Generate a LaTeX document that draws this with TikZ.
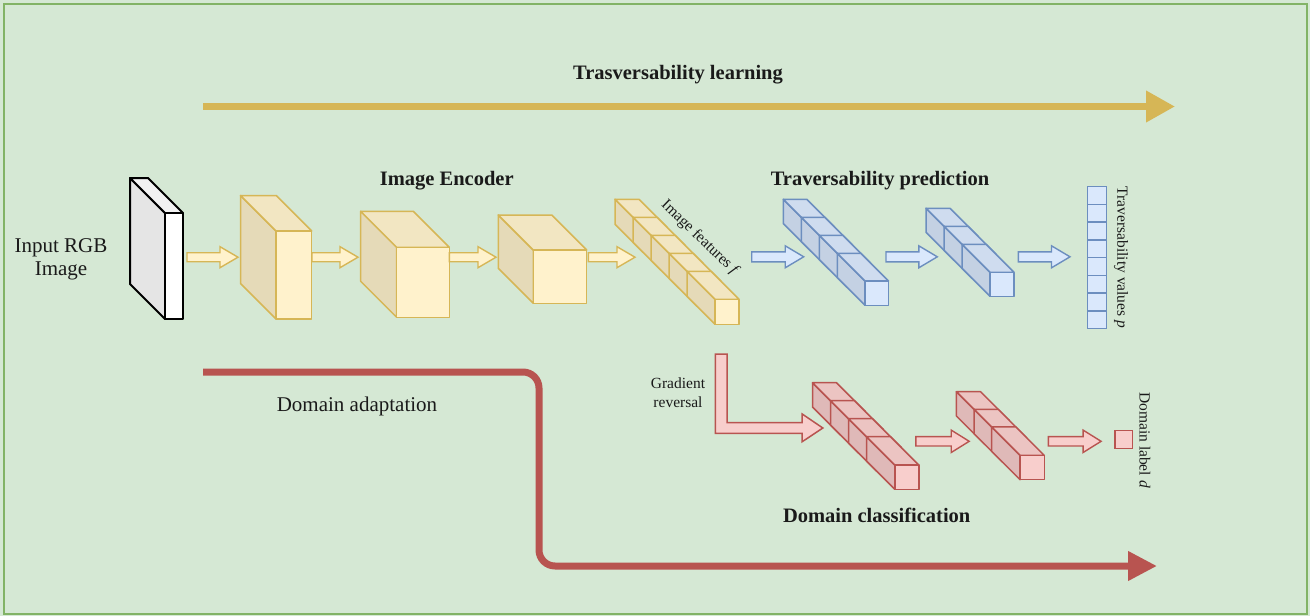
\documentclass[tikz,border=0pt]{standalone}
\usepackage{fontspec}
\setmainfont{Liberation Serif}
\usetikzlibrary{arrows.meta}
\definecolor{bg}{HTML}{D5E8D4}
\definecolor{bgline}{HTML}{82B366}
\definecolor{yfill}{HTML}{FFF2CC}
\definecolor{yline}{HTML}{D6B656}
\definecolor{bfill}{HTML}{DAE8FC}
\definecolor{bline}{HTML}{6C8EBF}
\definecolor{rfill}{HTML}{F8CECC}
\definecolor{rline}{HTML}{B85450}
\definecolor{txt}{HTML}{1A1A1A}
% cube: front top-left x, y, width, height, depth, fill, line, line width
\newcommand{\mycube}[8]{%
  \filldraw[fill=#6!90!black, draw=#7, line width=#8, line join=round]
    (#1,#2) -- ({#1-#5},{#2-#5}) -- ({#1-#5},{#2+#4-#5}) -- (#1,{#2+#4}) -- cycle;
  \filldraw[fill=#6!95!black, draw=#7, line width=#8, line join=round]
    (#1,#2) -- ({#1-#5},{#2-#5}) -- ({#1+#3-#5},{#2-#5}) -- ({#1+#3},#2) -- cycle;
  \filldraw[fill=#6, draw=#7, line width=#8, line join=round]
    (#1,#2) rectangle ({#1+#3},{#2+#4});
}
% row of cubes: back top-left x0, y0, count, step, w, h, depth, fill, line
\newcommand{\cuberow}[9]{%
  \foreach \i in {1,...,#3}{%
    \pgfmathsetmacro\cx{#1+(\i-1)*#4+#7}%
    \pgfmathsetmacro\cy{#2+(\i-1)*#4+#7}%
    \mycube{\cx}{\cy}{#5}{#6}{#7}{#8}{#9}{1.5pt}%
  }%
}
% block arrow: x1, x2, yc, shaft half, head half, head length, fill, line
\newcommand{\blockarrow}[8]{%
  \filldraw[fill=#7, draw=#8, line width=1.4pt, line join=miter]
    (#1,{#3-#4}) -- ({#2-#6},{#3-#4}) -- ({#2-#6},{#3-#5}) -- (#2,#3)
    -- ({#2-#6},{#3+#5}) -- ({#2-#6},{#3+#4}) -- (#1,{#3+#4}) -- cycle;
}
\tikzset{
  titletxt/.style={font=\fontsize{20.5}{24}\selectfont\bfseries, text=txt, inner sep=0pt},
  bodytxt/.style={font=\fontsize{21}{23.3}\selectfont, text=txt, align=center, inner sep=0pt},
  smalltxt/.style={font=\fontsize{15.5}{18.7}\selectfont, text=txt, align=center, inner sep=0pt},
  bigarrow/.style={line width=7pt},
}
\begin{document}
\begin{tikzpicture}[x=1pt,y=-1pt]
\useasboundingbox (0,0) rectangle (1310,616);
\fill[bg] (0,0) rectangle (1310,616);
\draw[bgline, line width=2pt] (4,4) rectangle (1307,614);

% top learning arrow
\coordinate (tlS) at (203,106.5);
\coordinate (tlE) at (1175,106.5);
\draw[bigarrow, yline, -{Triangle[length=29pt,width=30pt]}] (tlS) -- (tlE);
\node[titletxt] (tl) at (678,75) {Trasversability learning};

% domain adaptation arrow
\coordinate (daS) at (203,372);
\coordinate (daA) at (539,372);
\coordinate (daB) at (539,566);
\coordinate (daE) at (1157,566);
\draw[bigarrow, rline, rounded corners=16pt, -{Triangle[length=29pt,width=28pt]}]
  (daS) -- (daA) -- (daB) -- (daE);
\node[bodytxt] (da) at (357,406) {Domain adaptation};

% input image
\node[bodytxt] (inp) at (61,259) {Input RGB\\Image};
\mycube{165}{213}{18}{106}{35}{white}{black}{2pt}

% encoder
\node[titletxt] (enc) at (446.7,181) {Image Encoder};
\blockarrow{187}{238}{257.2}{4.5}{10.5}{18}{yfill}{yline}
\mycube{276}{231}{35.7}{88}{35.5}{yfill}{yline}{1.5pt}
\blockarrow{312}{358}{257.2}{4.5}{10.5}{18}{yfill}{yline}
\mycube{396.7}{247.3}{52.6}{70}{36}{yfill}{yline}{1.5pt}
\blockarrow{449.3}{496}{257.2}{4.5}{10.5}{18}{yfill}{yline}
\mycube{533.3}{250}{53.4}{53.3}{35}{yfill}{yline}{1.5pt}
\blockarrow{588.3}{635}{257.2}{4.5}{10.5}{18}{yfill}{yline}
\cuberow{615}{199.3}{5}{18}{24}{25}{28}{yfill}{yline}
\node[smalltxt, rotate=-44] (feat) at (700,238) {Image features \textit{f}};

% traversability prediction
\node[titletxt] (tp) at (880,181) {Traversability prediction};
\blockarrow{751.7}{803.7}{256.8}{5}{11}{18.5}{bfill}{bline}
\cuberow{783.3}{199.3}{4}{18}{23.5}{24.3}{27.7}{bfill}{bline}
\blockarrow{886}{937.3}{256.8}{5}{11}{18.5}{bfill}{bline}
\cuberow{926}{208.3}{3}{18}{24}{24}{28}{bfill}{bline}
\blockarrow{1018.3}{1070}{256.8}{5}{11}{18.5}{bfill}{bline}
\foreach \k in {0,...,7}{%
  \filldraw[fill=bfill, draw=bline, line width=1.5pt]
    (1087.5,{186.5+\k*17.75}) rectangle (1106.5,{186.5+(\k+1)*17.75});
}
\node[smalltxt, rotate=-90] (tv) at (1121,257.5) {Traversability values \textit{p}};

% gradient reversal
\filldraw[fill=rfill, draw=rline, line width=1.5pt, line join=miter]
  (715.4,354) -- (727.1,354) -- (727.1,422.7) -- (802.2,422.7) -- (802.2,414)
  -- (822.8,428) -- (802.2,441.7) -- (802.2,433.3) -- (715.4,433.3) -- cycle;
\node[smalltxt] (gr) at (678,393) {Gradient\\reversal};

% domain classification
\cuberow{812.5}{382.7}{4}{18}{24}{24.3}{28.3}{rfill}{rline}
\blockarrow{915.8}{969.2}{441.3}{4.7}{11.2}{18}{rfill}{rline}
\cuberow{956.4}{391.7}{3}{17.6}{24.2}{24.3}{28.5}{rfill}{rline}
\blockarrow{1048.4}{1101.1}{441.3}{4.7}{11.2}{18}{rfill}{rline}
\filldraw[fill=rfill, draw=rline, line width=1.5pt] (1114.8,430.3) rectangle (1132.7,448.5);
\node[smalltxt, rotate=-90] (dl) at (1145,440) {Domain label \textit{d}};
\node[titletxt] (dc) at (876.7,515) {Domain classification};
\end{tikzpicture}
\end{document}
